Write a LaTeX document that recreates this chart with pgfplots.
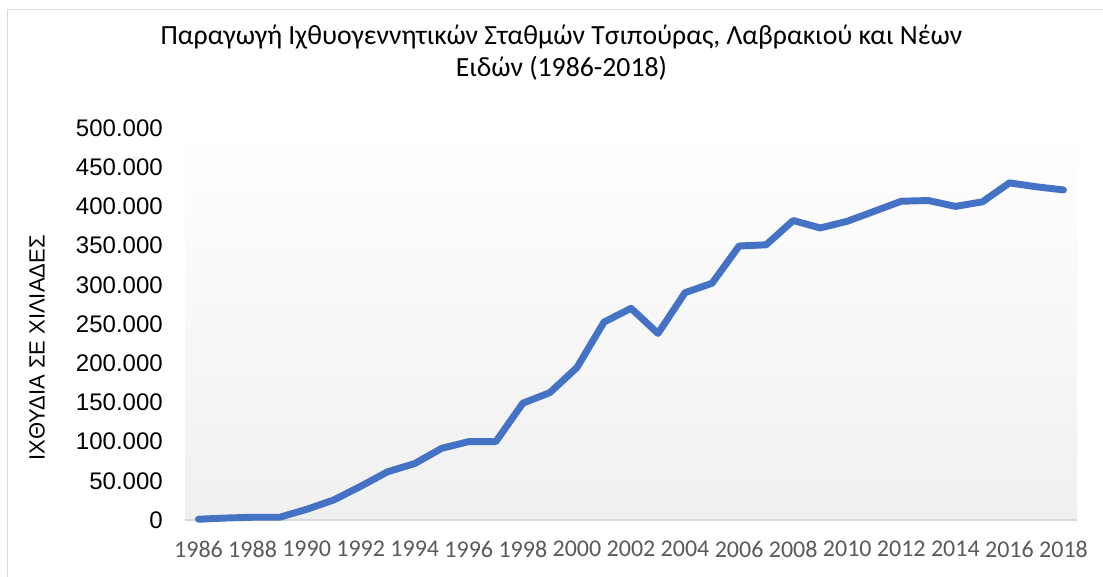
\documentclass[border=0pt]{standalone}
\usepackage{pgfplots}
\pgfplotsset{compat=1.18}
\usepackage{fontspec}
\setmainfont{Carlito}
\newfontfamily\arialf{Liberation Sans}
\definecolor{lineblue}{HTML}{4472C4}
\definecolor{framegray}{HTML}{D9D9D9}
\definecolor{bggray}{HTML}{F0F0F0}
\definecolor{xtickc}{HTML}{595959}
\begin{document}
\begin{tikzpicture}
\useasboundingbox (0pt,0pt) rectangle (827.25pt,432pt);
\draw[framegray, line width=1pt] (5.7pt,-4pt) -- (5.7pt,424.8pt) -- (830pt,424.8pt);
\node[font=\fontsize{20.8}{24}\selectfont, anchor=base, inner sep=0pt] at (421.1pt,398.3pt) {Παραγωγή Ιχθυογεννητικών Σταθμών Τσιπούρας, Λαβρακιού και Νέων};
\node[font=\fontsize{20.8}{24}\selectfont, anchor=base, inner sep=0pt] at (421.1pt,374.5pt) {Ειδών (1986-2018)};
\node[rotate=90, font=\arialf\fontsize{16.5}{20}\selectfont, inner sep=0pt] at (27.75pt,171pt) {ΙΧΘΥΔΙΑ ΣΕ ΧΙΛΙΑΔΕΣ};
\begin{axis}[
  at={(138.75pt,42pt)}, anchor=south west,
  scale only axis, width=669pt, height=294pt,
  xmin=1985.5, xmax=2018.5, ymin=0, ymax=500000,
  xtick={1986,1988,1990,1992,1994,1996,1998,2000,2002,2004,2006,2008,2010,2012,2014,2016,2018},
  xticklabels={1986,1988,1990,1992,1994,1996,1998,2000,2002,2004,2006,2008,2010,2012,2014,2016,2018},
  ytick={0,50000,100000,150000,200000,250000,300000,350000,400000,450000,500000},
  yticklabels={0,50.000,100.000,150.000,200.000,250.000,300.000,350.000,400.000,450.000,500.000},
  scaled y ticks=false, scaled x ticks=false,
  major tick length=0pt,
  axis x line*=bottom, axis y line*=left,
  x axis line style={draw=framegray, line width=1pt, -},
  y axis line style={draw=none},
  axis background/.style={top color=white, bottom color=bggray},
  xticklabel style={font=\fontsize{18}{20}\selectfont, text=xtickc, inner sep=0pt, anchor=north, yshift=-15.5pt},
  yticklabel style={font=\arialf\fontsize{18}{20}\selectfont, text=black, inner sep=0pt, anchor=east, xshift=-16.5pt},
  clip=false,
]
\addplot[lineblue, line width=5.2pt, line join=round, line cap=round] coordinates {
(1986,1000) (1987,2500) (1988,3500) (1989,3500) (1990,13600) (1991,25500)
(1992,43000) (1993,61600) (1994,72000) (1995,91500) (1996,100000) (1997,100000)
(1998,149000) (1999,162500) (2000,194500) (2001,252400) (2002,270000) (2003,238000)
(2004,290000) (2005,302000) (2006,349500) (2007,351000) (2008,382000) (2009,372500)
(2010,381000) (2011,393800) (2012,406600) (2013,407500) (2014,400000) (2015,405800)
(2016,430000) (2017,425000) (2018,421000)
};
\end{axis}
\end{tikzpicture}
\end{document}
